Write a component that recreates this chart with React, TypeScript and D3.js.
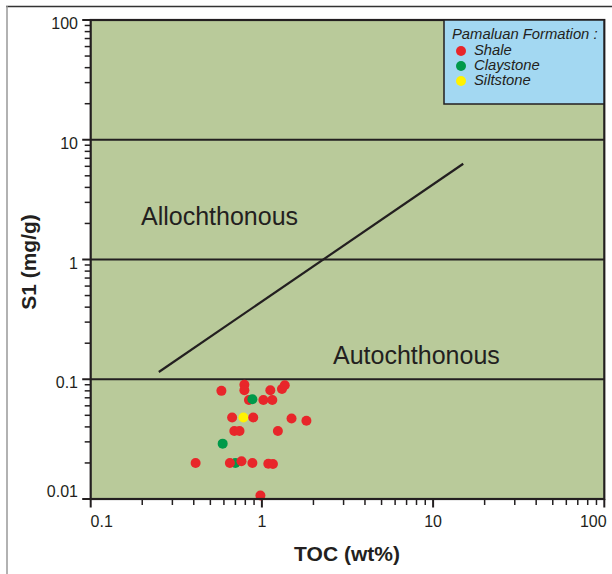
import React from "react";
import * as d3 from "d3";

const W = 612;
const H = 574;

// Data: TOC (wt%), S1 (mg/g), lithology (draw order)
const lithology = ["Shale", "Claystone", "Siltstone"];
const lithColors = ["#e8262a", "#00994a", "#fff200"];

const tocValues = [0.58, 0.79, 0.79, 0.84, 0.88, 1.02, 1.15, 1.12, 1.31, 1.36, 0.67, 0.78, 0.89, 1.49, 1.82, 0.69, 0.74, 1.24, 0.59, 0.41, 0.70, 0.65, 0.76, 0.88, 1.09, 1.16, 0.98];
const s1Values = [0.080, 0.090, 0.081, 0.067, 0.068, 0.067, 0.067, 0.081, 0.083, 0.089, 0.048, 0.048, 0.048, 0.047, 0.045, 0.037, 0.037, 0.037, 0.029, 0.020, 0.020, 0.020, 0.0207, 0.020, 0.0197, 0.0196, 0.0107];
const lithIndex = [0, 0, 0, 0, 1, 0, 0, 0, 0, 0, 0, 2, 0, 0, 0, 0, 0, 0, 1, 0, 1, 0, 0, 0, 0, 0, 0];

// Divider line between Allochthonous / Autochthonous
const lineToc = [0.25, 15];
const lineS1 = [0.115, 6.3];

const xTicks = [0.1, 1, 10, 100];
const xTickLabels = ["0.1", "1", "10", "100"];
const yTicks = [0.01, 0.1, 1, 10, 100];
const yTickLabels = ["0.01", "0.1", "1", "10", "100"];
const gridValues = [0.1, 1, 10];

export default function App() {
  const left = 90.7, right = 604.3, top = 20, bottom = 499;
  const x = d3.scaleLog().domain([0.1, 100]).range([left, right]);
  const y = d3.scaleLog().domain([0.01, 100]).range([bottom, top]);

  const minorX: number[] = [];
  const minorY: number[] = [];
  for (let d = -1; d < 2; d++) for (let k = 2; k <= 9; k++) minorX.push(k * Math.pow(10, d));
  for (let d = -2; d < 2; d++) for (let k = 2; k <= 9; k++) minorY.push(k * Math.pow(10, d));

  const line = d3.line<number>().x((_, i) => x(lineToc[i])).y((v) => y(v));

  const ink = "#231f20";
  const font = "Arial, 'Liberation Sans', Helvetica, sans-serif";

  const xLabelOffset = [11, 0, 0, -11];
  const yLabelOffset = [-6, 5, 5, 5, 5];

  const legendX = 444, legendY = 20, legendW = 160, legendH = 84;

  return (
    <svg width={W} height={H} style={{ position: "absolute", left: 0, top: 0 }} fontFamily={font}>
      <rect x={0} y={0} width={W} height={H} fill="#ffffff" />
      {/* outer frame */}
      <line x1={6} y1={6.5} x2={W} y2={6.5} stroke="#333" strokeWidth={1.5} />
      <line x1={7} y1={6} x2={7} y2={H} stroke="#999" strokeWidth={1.5} />

      {/* plot background */}
      <rect x={left} y={top} width={right - left} height={bottom - top} fill="#b9ca9a" />

      {/* grid lines */}
      {gridValues.map((g) => (
        <line key={g} x1={left} x2={right} y1={y(g)} y2={y(g)} stroke={ink} strokeWidth={2} />
      ))}

      {/* ticks */}
      {minorY.map((v) => (
        <line key={"my" + v} x1={left - 6} x2={left} y1={y(v)} y2={y(v)} stroke={ink} strokeWidth={1.5} />
      ))}
      {yTicks.map((v) => (
        <line key={"My" + v} x1={left - 8.5} x2={left} y1={y(v)} y2={y(v)} stroke={ink} strokeWidth={2} />
      ))}
      {minorX.map((v) => (
        <line key={"mx" + v} x1={x(v)} x2={x(v)} y1={bottom} y2={bottom + 6} stroke={ink} strokeWidth={1.5} />
      ))}
      {xTicks.map((v) => (
        <line key={"Mx" + v} x1={x(v)} x2={x(v)} y1={bottom} y2={bottom + 8.5} stroke={ink} strokeWidth={2} />
      ))}

      {/* tick labels */}
      {yTicks.map((v, i) => (
        <text key={"yl" + v} x={78} y={y(v) + yLabelOffset[i]} fontSize={16} fill={ink} textAnchor="end" dominantBaseline="middle">
          {yTickLabels[i]}
        </text>
      ))}
      {xTicks.map((v, i) => (
        <text key={"xl" + v} x={x(v) + xLabelOffset[i]} y={523} fontSize={16} fill={ink} textAnchor="middle" dominantBaseline="middle">
          {xTickLabels[i]}
        </text>
      ))}

      {/* axis titles */}
      <text x={347} y={555} fontSize={21} fontWeight="bold" fill={ink} textAnchor="middle" dominantBaseline="middle">
        TOC (wt%)
      </text>
      <text transform={`translate(30,262) rotate(-90)`} fontSize={21} fontWeight="bold" fill={ink} textAnchor="middle" dominantBaseline="middle">
        S1 (mg/g)
      </text>

      {/* divider line */}
      <path d={line(lineS1) || ""} stroke={ink} strokeWidth={2.2} fill="none" />

      {/* region labels */}
      <text x={141} y={225} fontSize={25} fill={ink}>Allochthonous</text>
      <text x={333} y={364} fontSize={25} fill={ink}>Autochthonous</text>

      {/* data points */}
      {tocValues.map((t, i) => (
        <circle key={"p" + i} cx={x(t)} cy={y(s1Values[i])} r={5} fill={lithColors[lithIndex[i]]} />
      ))}

      {/* plot border */}
      <rect x={left} y={top} width={right - left} height={bottom - top} fill="none" stroke={ink} strokeWidth={2.2} />

      {/* legend */}
      <rect x={legendX} y={legendY} width={legendW} height={legendH} fill="#a3d8f2" stroke={ink} strokeWidth={1.5} />
      <text x={452} y={35} fontSize={14.8} fontStyle="italic" fill={ink} dominantBaseline="middle">
        Pamaluan Formation :
      </text>
      {lithology.map((name, i) => (
        <g key={name}>
          <circle cx={461} cy={51 + i * 15} r={5} fill={lithColors[i]} />
          <text x={474} y={51 + i * 15} fontSize={14.8} fontStyle="italic" fill={ink} dominantBaseline="middle">
            {name}
          </text>
        </g>
      ))}
    </svg>
  );
}
